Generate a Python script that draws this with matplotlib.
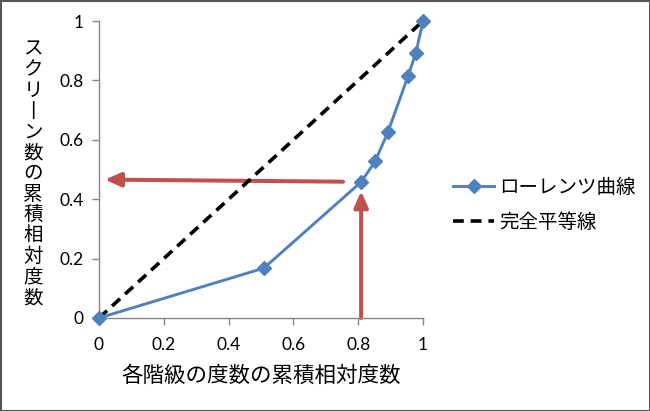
import matplotlib
matplotlib.use("Agg")
import matplotlib.pyplot as plt
from matplotlib.patches import Rectangle

plt.rcParams['font.family'] = ['Noto Sans CJK JP', 'DejaVu Sans']

# Data
lorenz_x = [0.0, 0.509, 0.809, 0.852, 0.892, 0.954, 0.978, 1.0]
lorenz_y = [0.0, 0.168, 0.458, 0.527, 0.627, 0.815, 0.893, 1.0]
equal_x = [0.0, 1.0]
equal_y = [0.0, 1.0]
ticks = [0, 0.2, 0.4, 0.6, 0.8, 1]
tick_labels = ["0", "0.2", "0.4", "0.6", "0.8", "1"]
h_arrow_tail = (0.753, 0.459)
h_arrow_tip = (0.018, 0.466)
v_arrow_tail = (0.809, 0.0)
v_arrow_tip = (0.809, 0.427)

series_names = ["ローレンツ曲線", "完全平等線"]
xlabel = "各階級の度数の累積相対度数"
ylabel = "スクリーン数の累積相対度数"

blue = "#4F81BD"
red = "#C0504D"
gray = "#868686"

fig = plt.figure(figsize=(6.5, 4.11), dpi=100)
ax = fig.add_axes([0.1523, 0.2263, 0.4985, 0.7226])

ax.plot(lorenz_x, lorenz_y, color=blue, lw=2.1, marker='D', markersize=7.2,
        markerfacecolor=blue, markeredgecolor=blue, clip_on=False, zorder=4,
        label=series_names[0])
ax.plot(equal_x, equal_y, color='black', lw=2.6, linestyle=(0, (3.0, 1.9)),
        clip_on=False, zorder=3, label=series_names[1])

arrow_style = dict(arrowstyle='-|>,head_length=0.95,head_width=0.42', lw=2.9,
                   color=red, shrinkA=0, shrinkB=0, mutation_scale=10)
ax.annotate('', xy=h_arrow_tip, xytext=h_arrow_tail, arrowprops=arrow_style, zorder=2)
ax.annotate('', xy=v_arrow_tip, xytext=v_arrow_tail, arrowprops=arrow_style, zorder=2)

ax.set_xlim(0, 1)
ax.set_ylim(0, 1)
ax.set_xticks(ticks)
ax.set_xticklabels(tick_labels)
ax.set_yticks(ticks)
ax.set_yticklabels(tick_labels)
for lab in ax.get_xticklabels() + ax.get_yticklabels():
    lab.set_fontfamily(['Lato', 'DejaVu Sans'])
    lab.set_fontsize(12.5)
ax.tick_params(axis='both', direction='out', length=5, width=1, color=gray,
               labelcolor='black', pad=6)
ax.tick_params(axis='x', pad=9)
for s in ['top', 'right']:
    ax.spines[s].set_visible(False)
for s in ['left', 'bottom']:
    ax.spines[s].set_color(gray)
    ax.spines[s].set_linewidth(1)

ax.set_xlabel(xlabel, fontsize=15.5, labelpad=8)
fig.text(0.051, 0.578, "\n".join(ylabel.replace("ー", "丨")), fontsize=14,
         ha='center', va='center', linespacing=0.98)

leg = ax.legend(loc='center left', bbox_to_anchor=(1.04, 0.38), frameon=False,
                fontsize=14, handlelength=2.1, labelspacing=0.72, handletextpad=0.25)

fig.patches.append(Rectangle((0, 0), 1, 1, transform=fig.transFigure, fill=False,
                             edgecolor='#555555', lw=2.2, zorder=10))

fig.savefig("out.png", dpi=100)
